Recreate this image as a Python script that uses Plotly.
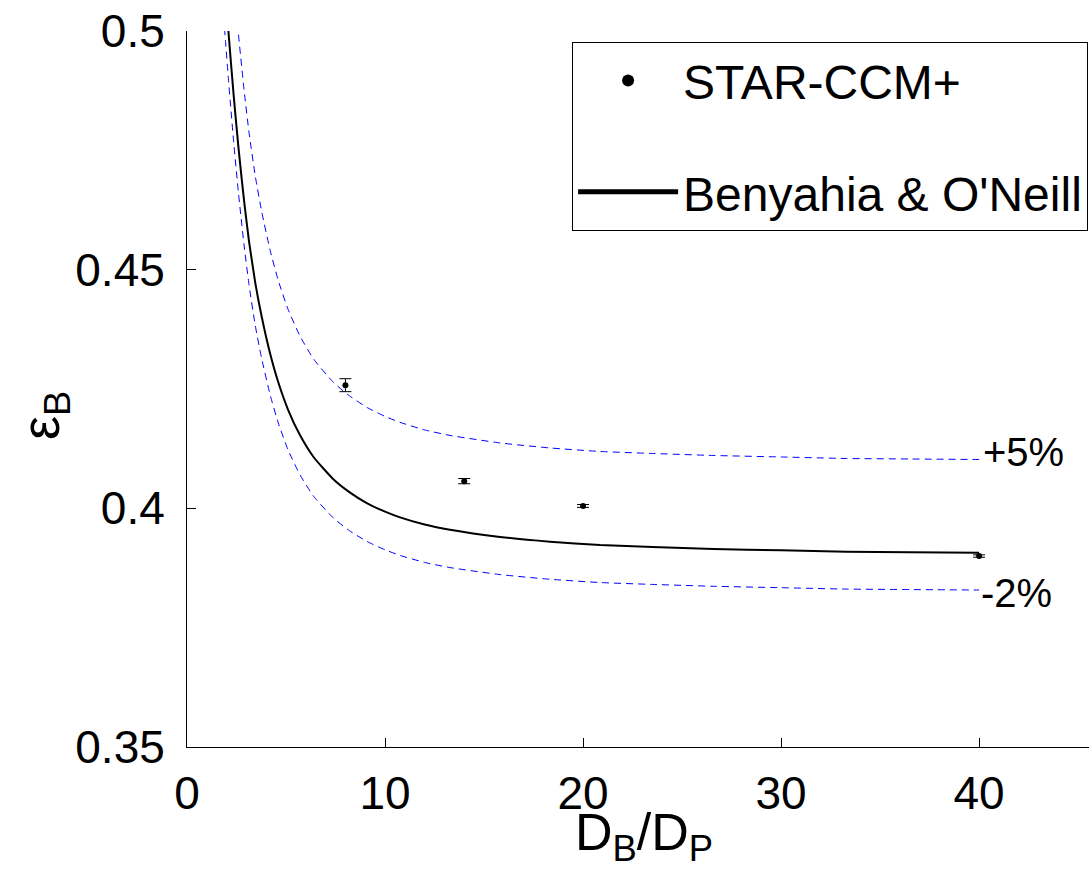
import plotly.graph_objects as go

# Benyahia & O'Neill correlation curve
curve_x = [1.80, 1.95, 2.09, 2.35, 2.60, 2.88, 3.13, 3.45, 3.77, 4.20, 4.61, 5.10, 5.71, 6.40,
           7.39, 8.20, 9.08, 10.00, 10.76, 12.00, 13.28, 15.81, 18.33, 20.86, 23.50, 26.58,
           30.00, 33.30, 36.50, 40.00]
curve_y = [0.5160, 0.5078, 0.5000, 0.4868, 0.4755, 0.4645, 0.4560, 0.4472, 0.4402, 0.4324,
           0.4264, 0.4207, 0.4153, 0.4107, 0.4061, 0.4034, 0.4011, 0.3993, 0.3981, 0.3966,
           0.3955, 0.3940, 0.3930, 0.3923, 0.3919, 0.3915, 0.3912, 0.3909, 0.3908, 0.3907]

# tolerance bands shown in the chart
upper_pct = 5
lower_pct = -2
upper_y = [v * (1 + upper_pct / 100) for v in curve_y]
lower_y = [v * (1 + lower_pct / 100) for v in curve_y]

# STAR-CCM+ simulation results
sim_x = [8, 14, 20, 40]
sim_y = [0.4258, 0.4057, 0.4005, 0.3900]
sim_err = [0.00136, 0.00055, 0.00030, 0.00025]

x_ticks = [0, 10, 20, 30, 40]
y_ticks = [0.35, 0.40, 0.45, 0.50]
y_tick_text = ["0.35", "0.4", "0.45", "0.5"]

FONT = "Liberation Sans, Arial, sans-serif"

fig = go.Figure()

fig.add_trace(go.Scatter(
    x=curve_x, y=upper_y, mode="lines", showlegend=False, hoverinfo="skip",
    line=dict(color="#0000ff", width=1, dash="7px,5px", shape="spline", smoothing=0.5)))
fig.add_trace(go.Scatter(
    x=curve_x, y=lower_y, mode="lines", showlegend=False, hoverinfo="skip",
    line=dict(color="#0000ff", width=1, dash="7px,5px", shape="spline", smoothing=0.5)))

fig.add_trace(go.Scatter(
    x=sim_x, y=sim_y, mode="markers", name="STAR-CCM+", legendgroup="a",
    marker=dict(color="black", size=6),
    error_y=dict(type="data", array=sim_err, color="black", thickness=1, width=6)))

fig.add_trace(go.Scatter(
    x=curve_x, y=curve_y, mode="lines", name="Benyahia & O'Neill", legendgroup="b",
    line=dict(color="black", width=2, shape="spline", smoothing=0.5)))

fig.add_annotation(x=40.1, y=0.4119, text="+5%", showarrow=False, xanchor="left",
                   yanchor="middle", font=dict(size=40, color="black", family=FONT))
fig.add_annotation(x=40.0, y=0.3822, text="-2%", showarrow=False, xanchor="left",
                   yanchor="middle", font=dict(size=40, color="black", family=FONT))

# axis titles
fig.add_annotation(x=0.507, y=-0.076, xref="paper", yref="paper", text="D<sub>B</sub>/D<sub>P</sub>",
                   showarrow=False, xanchor="center", yanchor="top",
                   font=dict(size=52, color="black", family=FONT))
fig.add_annotation(x=-0.158, y=0.463, xref="paper", yref="paper", text="ε<sub>B</sub>",
                   showarrow=False, xanchor="center", yanchor="middle", textangle=-90,
                   font=dict(size=54, color="black", family=FONT))

fig.update_layout(
    width=1089, height=878,
    margin=dict(l=187, r=0, t=31, b=131),
    plot_bgcolor="white", paper_bgcolor="white",
    font=dict(family=FONT, color="black"),
    legend=dict(x=0.999, xanchor="right", y=0.985, yanchor="top",
                bordercolor="black", borderwidth=1, bgcolor="white",
                font=dict(size=48, color="black", family=FONT),
                tracegroupgap=46, itemsizing="constant", traceorder="grouped",
                itemwidth=100),
)

fig.update_xaxes(
    range=[0, 45.55], tickvals=x_ticks, ticktext=[str(t) for t in x_ticks],
    showline=True, linecolor="black", linewidth=1, mirror=False,
    ticks="inside", ticklen=9, tickcolor="black", tickwidth=1,
    showgrid=False, zeroline=False,
    tickfont=dict(size=46, color="black", family=FONT), ticklabelstandoff=6,
)
fig.update_yaxes(
    range=[0.35, 0.5], tickvals=y_ticks, ticktext=y_tick_text,
    showline=True, linecolor="black", linewidth=1, mirror=False,
    ticks="inside", ticklen=9, tickcolor="black", tickwidth=1,
    showgrid=False, zeroline=False,
    tickfont=dict(size=46, color="black", family=FONT), ticklabelstandoff=12,
)

fig.write_html("out.html")
